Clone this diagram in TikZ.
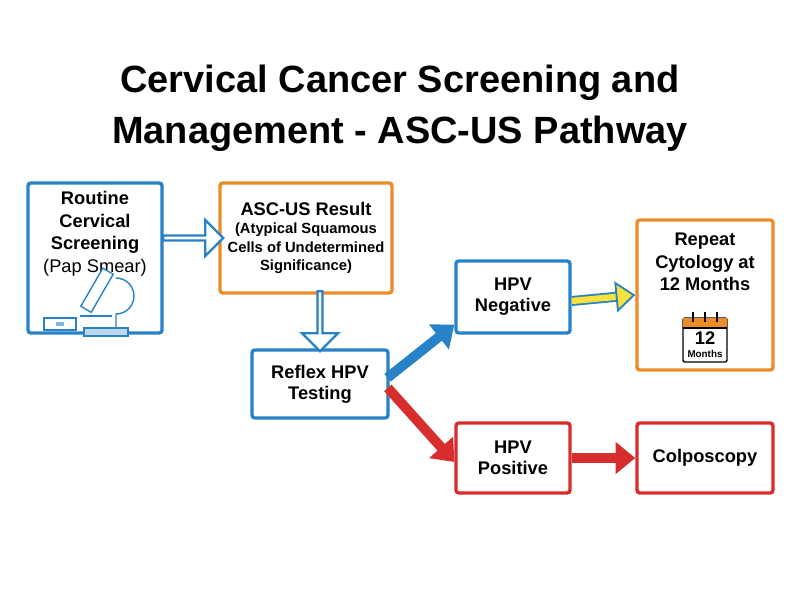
\documentclass[tikz,border=0pt]{standalone}
\usepackage{fontspec}
\setmainfont{Liberation Sans}
\usetikzlibrary{arrows.meta,shapes.arrows}
\definecolor{bblue}{RGB}{40,130,200}
\definecolor{borange}{RGB}{235,140,40}
\definecolor{bred}{RGB}{215,45,45}
\definecolor{byellow}{RGB}{250,225,60}
\tikzset{
  box/.style={draw=#1,line width=2.4pt,fill=white,rounded corners=2pt,align=center,
    font=\fontsize{13}{15}\selectfont\bfseries,inner sep=2pt},
  hollow/.style={single arrow,draw=bblue,line width=1.6pt,fill=white,minimum height=1.5cm,
    single arrow head extend=5pt,minimum width=0.9cm,inner sep=0pt},
  fat/.style={draw=#1,line width=7pt,-{Triangle[length=14pt,width=22pt]}}
}
\begin{document}
\begin{tikzpicture}
\useasboundingbox (0,0) rectangle (20,15);
% title
\node (title) at (10,12.3) [align=center,font=\fontsize{27}{36}\selectfont\bfseries]
  {Cervical Cancer Screening and\\Management - ASC-US Pathway};
% boxes
\node (scr) [box=bblue,minimum width=3.35cm,minimum height=3.75cm] at (2.375,8.55) {};
\node (scrt) at (2.375,9.15) [align=center,font=\fontsize{13}{16}\selectfont]
  {\textbf{Routine}\\\textbf{Cervical}\\\textbf{Screening}\\(Pap Smear)};
\node (asc) [box=borange,minimum width=4.3cm,minimum height=2.75cm] at (7.65,9.05) {};
\node (asct) at (7.65,9.05) [align=center,font=\fontsize{10.5}{13}\selectfont\bfseries]
  {\fontsize{13}{16}\selectfont ASC-US Result\\(Atypical Squamous\\Cells of Undetermined\\Significance)};
\node (hpv) [box=bblue,minimum width=3.4cm,minimum height=1.7cm] at (8.0,5.4) {Reflex HPV\\Testing};
\node (neg) [box=bblue,minimum width=2.85cm,minimum height=1.8cm] at (12.825,7.575) {HPV\\Negative};
\node (pos) [box=bred,minimum width=2.85cm,minimum height=1.75cm] at (12.825,3.55) {HPV\\Positive};
\node (rep) [box=borange,minimum width=3.4cm,minimum height=3.75cm] at (17.625,7.625) {};
\node (rept) at (17.625,8.45) [align=center,font=\fontsize{13}{16}\selectfont\bfseries]
  {Repeat\\Cytology at\\12 Months};
\node (col) [box=bred,minimum width=3.4cm,minimum height=1.75cm] at (17.625,3.55) {Colposcopy};
% hollow arrows
\node (a1) [hollow] at (4.8,9.05) {};
\node (a2) [hollow,rotate=-90] at (8.0,7.0) {};
% connectors
\draw[fat=bblue,shorten <=-2pt] ([yshift=0.2cm]hpv.east) -- ([yshift=0.25cm]neg.south west);
\draw[fat=bred,shorten <=-2pt] ([yshift=-0.15cm]hpv.east) -- ([yshift=-0.1cm]pos.west);
\draw[fat=bred] (pos.east) -- (col.west);
\draw[draw=bblue,double=byellow,double distance=4.5pt,line width=1.3pt,
  -{Triangle[length=14pt,width=22pt,fill=byellow]}] ([yshift=-0.1cm]neg.east) -- (rep.west);
% microscope
\begin{scope}[shift={(2.2,6.8)},line width=1pt,draw=bblue]
  \draw[fill=white] (-1.1,-0.05) rectangle (-0.3,0.25);
  \fill[bblue!60] (-0.8,0.05) rectangle (-0.6,0.15);
  \draw[fill=bblue!30] (-0.1,-0.2) rectangle (1.0,0);
  \draw (0.7,0) -- (0.7,0.35) arc (-90:90:0.45);
  \draw[fill=white,rotate around={-30:(0.2,0.9)}] (0.05,0.4) rectangle (0.35,1.5);
  \draw (-0.2,0.3) -- (0.6,0.3);
\end{scope}
% calendar
\begin{scope}[shift={(17.625,6.5)}]
  \draw[line width=1pt,fill=white,rounded corners=1pt] (-0.55,-0.55) rectangle (0.55,0.55);
  \fill[borange] (-0.55,0.3) rectangle (0.55,0.55);
  \draw[line width=1pt] (-0.55,0.3) -- (0.55,0.3);
  \foreach \x in {-0.3,0,0.3} \draw[line width=1pt] (\x,0.45) -- (\x,0.7);
  \node (calnum) at (0,0.05) {\fontsize{13}{14}\selectfont\bfseries 12};
  \node (calmon) at (0,-0.35) {\fontsize{7}{8}\selectfont\bfseries Months};
\end{scope}
\end{tikzpicture}
\end{document}
